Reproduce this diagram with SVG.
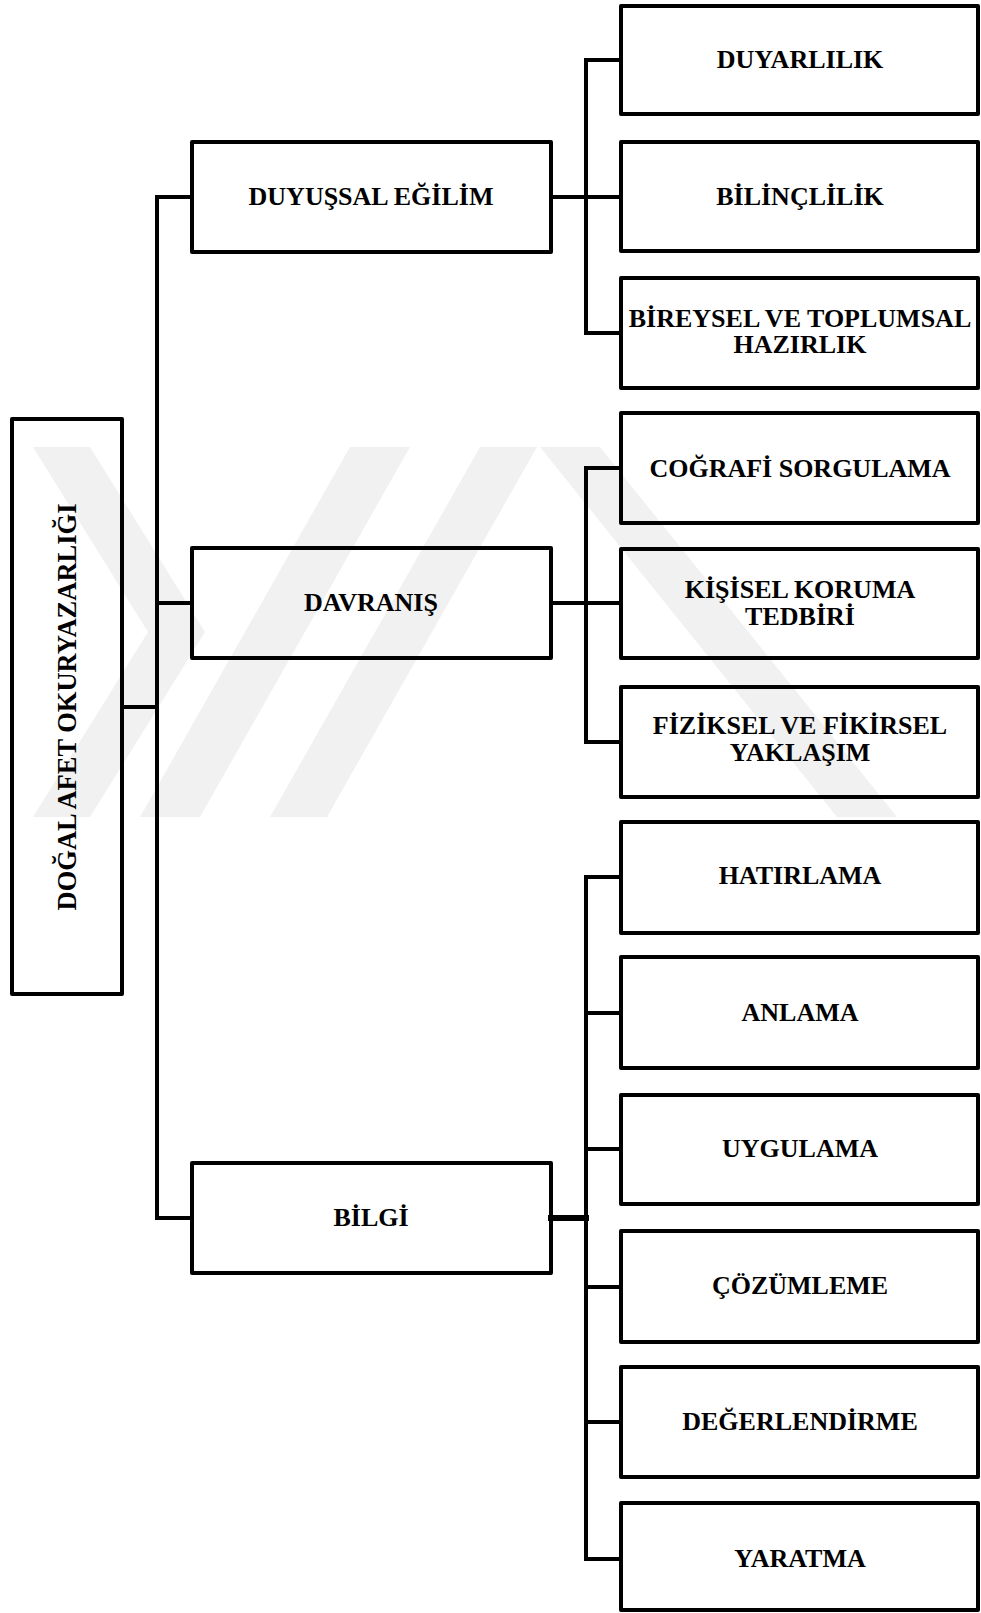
<svg xmlns="http://www.w3.org/2000/svg" width="981" height="1613" viewBox="0 0 981 1613">
<style>
.bx{fill:none;stroke:#000;stroke-width:4;stroke-linejoin:round}
.ln{fill:none;stroke:#000;stroke-width:4;stroke-linecap:square}
.tx{font-family:"Liberation Serif","Times New Roman",serif;font-weight:bold;font-size:26px;fill:#000;text-anchor:middle}
.wm{fill:#f1f1f1}
</style>
<rect width="981" height="1613" fill="#fff"/>
<g id="watermark">
<polygon class="wm" points="33,447 90,447 205,632 90,817 33,817 148,632"/>
<polygon class="wm" points="350,447 410,447 200,817 140,817"/>
<polygon class="wm" points="480,447 537,447 327,817 270,817"/>
<polygon class="wm" points="540,447 600,447 897,817 837,817"/>
</g>
<g id="connectors">
<line class="ln" x1="122" y1="707" x2="157" y2="707"/>
<line class="ln" x1="157" y1="197" x2="157" y2="1218"/>
<line class="ln" x1="157" y1="197" x2="192" y2="197"/>
<line class="ln" x1="157" y1="603" x2="192" y2="603"/>
<line class="ln" x1="157" y1="1218" x2="192" y2="1218"/>
<line class="ln" x1="551" y1="197" x2="586" y2="197"/>
<line class="ln" x1="551" y1="603" x2="586" y2="603"/>
<line class="ln" x1="551" y1="1218" x2="586" y2="1218" style="stroke-width:6"/>
<line class="ln" x1="586" y1="60" x2="586" y2="333"/>
<line class="ln" x1="586" y1="60" x2="621" y2="60"/>
<line class="ln" x1="586" y1="197" x2="621" y2="197"/>
<line class="ln" x1="586" y1="333" x2="621" y2="333"/>
<line class="ln" x1="586" y1="468" x2="586" y2="742"/>
<line class="ln" x1="586" y1="468" x2="621" y2="468"/>
<line class="ln" x1="586" y1="603" x2="621" y2="603"/>
<line class="ln" x1="586" y1="742" x2="621" y2="742"/>
<line class="ln" x1="586" y1="877" x2="586" y2="1559"/>
<line class="ln" x1="586" y1="877" x2="621" y2="877"/>
<line class="ln" x1="586" y1="1013" x2="621" y2="1013"/>
<line class="ln" x1="586" y1="1149" x2="621" y2="1149"/>
<line class="ln" x1="586" y1="1287" x2="621" y2="1287"/>
<line class="ln" x1="586" y1="1422" x2="621" y2="1422"/>
<line class="ln" x1="586" y1="1559" x2="621" y2="1559"/>
</g>
<g id="root">
<rect class="bx" x="12" y="419" width="110" height="575"/>
<text class="tx" transform="translate(76,707) rotate(-90)" x="0" y="0" style="font-size:26.5px">DOĞAL AFET OKURYAZARLIĞI</text>
</g>
<g id="duyussal">
<rect class="bx" x="192" y="142" width="359" height="110"/>
<text class="tx" x="371" y="205">DUYUŞSAL EĞİLİM</text>
</g>
<g id="davranis">
<rect class="bx" x="192" y="548" width="359" height="110"/>
<text class="tx" x="371" y="611">DAVRANIŞ</text>
</g>
<g id="bilgi">
<rect class="bx" x="192" y="1163" width="359" height="110"/>
<text class="tx" x="371" y="1226">BİLGİ</text>
</g>
<g id="duyarlilik">
<rect class="bx" x="621" y="6" width="357" height="108"/>
<text class="tx" x="800" y="68">DUYARLILIK</text>
</g>
<g id="bilinclilik">
<rect class="bx" x="621" y="142" width="357" height="109"/>
<text class="tx" x="800" y="205">BİLİNÇLİLİK</text>
</g>
<g id="bireysel">
<rect class="bx" x="621" y="278" width="357" height="110"/>
<text class="tx" x="800" y="327">BİREYSEL VE TOPLUMSAL</text>
<text class="tx" x="800" y="353">HAZIRLIK</text>
</g>
<g id="cografi">
<rect class="bx" x="621" y="413" width="357" height="110"/>
<text class="tx" x="800" y="477">COĞRAFİ SORGULAMA</text>
</g>
<g id="kisisel">
<rect class="bx" x="621" y="549" width="357" height="109"/>
<text class="tx" x="800" y="598">KİŞİSEL KORUMA</text>
<text class="tx" x="800" y="625">TEDBİRİ</text>
</g>
<g id="fiziksel">
<rect class="bx" x="621" y="687" width="357" height="110"/>
<text class="tx" x="800" y="734">FİZİKSEL VE FİKİRSEL</text>
<text class="tx" x="800" y="761">YAKLAŞIM</text>
</g>
<g id="hatirlama">
<rect class="bx" x="621" y="822" width="357" height="111"/>
<text class="tx" x="800" y="884">HATIRLAMA</text>
</g>
<g id="anlama">
<rect class="bx" x="621" y="957" width="357" height="111"/>
<text class="tx" x="800" y="1021">ANLAMA</text>
</g>
<g id="uygulama">
<rect class="bx" x="621" y="1095" width="357" height="109"/>
<text class="tx" x="800" y="1157">UYGULAMA</text>
</g>
<g id="cozumleme">
<rect class="bx" x="621" y="1231" width="357" height="111"/>
<text class="tx" x="800" y="1294">ÇÖZÜMLEME</text>
</g>
<g id="degerlendirme">
<rect class="bx" x="621" y="1367" width="357" height="110"/>
<text class="tx" x="800" y="1430">DEĞERLENDİRME</text>
</g>
<g id="yaratma">
<rect class="bx" x="621" y="1503" width="357" height="107"/>
<text class="tx" x="800" y="1567">YARATMA</text>
</g>
</svg>
